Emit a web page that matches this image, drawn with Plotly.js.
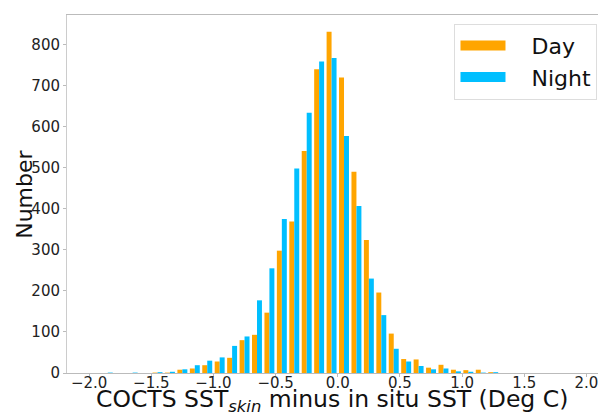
<!DOCTYPE html>
<html>
<head>
<meta charset="utf-8">
<script src="https://cdn.plot.ly/plotly-3.0.1.min.js"></script>
<style>
  html, body { margin: 0; padding: 0; background: #fff; }
  #chart { width: 598px; height: 413px; overflow: hidden; }
</style>
</head>
<body>
<div id="chart"></div>
<script>
// Histogram bin centres (bin width 0.1 °C)
const binCenters = [
  -1.85, -1.75, -1.65, -1.55, -1.45, -1.35, -1.25, -1.15, -1.05, -0.95,
  -0.85, -0.75, -0.65, -0.55, -0.45, -0.35, -0.25, -0.15, -0.05, 0.05,
  0.15, 0.25, 0.35, 0.45, 0.55, 0.65, 0.75, 0.85, 0.95, 1.05,
  1.15, 1.25
];

// Match-up counts per bin
const dayCounts = [
  0, 0, 0, 0, 1, 1, 8, 11, 19, 28,
  37, 80, 93, 147, 298, 369, 541, 740, 831, 720,
  490, 324, 196, 96, 34, 33, 13, 20, 8, 7,
  8, 2
];
const nightCounts = [
  1, 0, 1, 0, 2, 3, 9, 19, 30, 38,
  66, 89, 177, 255, 375, 498, 634, 759, 767, 577,
  407, 230, 141, 59, 28, 17, 9, 11, 4, 3,
  1, 2
];

const xTicks = [-2.0, -1.5, -1.0, -0.5, 0.0, 0.5, 1.0, 1.5, 2.0];
const yTicks = [0, 100, 200, 300, 400, 500, 600, 700, 800];

const seriesNames = ['Day', 'Night'];
const seriesColors = ['#FFA500', '#00BFFF'];

const xTitle = 'COCTS SST<sub><i>skin</i></sub> minus in situ SST (Deg C)';
const yTitle = 'Number';

// Non-breaking spaces give the gap between legend patch and label
const pad = '\u00a0\u00a0\u00a0';

const traces = [
  { type: 'bar', x: binCenters, y: dayCounts, name: seriesNames[0],
    marker: { color: seriesColors[0] }, showlegend: false, hoverinfo: 'x+y' },
  { type: 'bar', x: binCenters, y: nightCounts, name: seriesNames[1],
    marker: { color: seriesColors[1] }, showlegend: false, hoverinfo: 'x+y' },
  // Legend entries drawn as wide patches
  { type: 'scatter', mode: 'lines', x: [null], y: [null], name: pad + seriesNames[0],
    line: { color: seriesColors[0], width: 16 }, hoverinfo: 'skip' },
  { type: 'scatter', mode: 'lines', x: [null], y: [null], name: pad + seriesNames[1],
    line: { color: seriesColors[1], width: 16 }, hoverinfo: 'skip' }
];

const font = 'DejaVu Sans, sans-serif';

const layout = {
  width: 600,
  height: 413,
  margin: { l: 67, r: 0, t: 15, b: 40, pad: 0 },
  paper_bgcolor: '#ffffff',
  plot_bgcolor: '#ffffff',
  barmode: 'group',
  bargap: 0.2,
  bargroupgap: 0,
  font: { family: font, color: '#111' },
  xaxis: {
    range: [-2.178, 2.109],
    tickvals: xTicks,
    tickformat: '.1f',
    tickfont: { size: 15, family: font, color: '#222' },
    ticks: 'outside', ticklen: 3, tickcolor: '#bbb',
    ticklabelstandoff: -7,
    showgrid: false, zeroline: false,
    showline: true, linecolor: '#bbb', linewidth: 1, mirror: true,
    automargin: false
  },
  yaxis: {
    range: [0, 872],
    tickvals: yTicks,
    tickfont: { size: 15, family: font, color: '#222' },
    ticks: 'outside', ticklen: 3, tickcolor: '#bbb',
    showgrid: false, zeroline: false,
    showline: true, linecolor: '#ccc', linewidth: 1,
    automargin: false
  },
  // Axis titles placed as paper-anchored annotations
  annotations: [
    { text: xTitle, xref: 'paper', yref: 'paper', x: 0.497, y: -0.078,
      xanchor: 'center', yanchor: 'middle', showarrow: false,
      font: { size: 23.5, family: font, color: '#111' } },
    { text: yTitle, xref: 'paper', yref: 'paper', x: -0.081, y: 0.5,
      xanchor: 'center', yanchor: 'middle', textangle: -90, showarrow: false,
      font: { size: 22, family: font, color: '#111' } }
  ],
  legend: {
    x: 0.727, y: 0.976, xanchor: 'left', yanchor: 'top',
    bgcolor: '#ffffff', bordercolor: '#ddd', borderwidth: 1,
    font: { size: 22, family: font, color: '#111' },
    itemwidth: 45,
    tracegroupgap: 4
  },
  showlegend: true
};

Plotly.newPlot('chart', traces, layout, { displayModeBar: false, staticPlot: true });
</script>
</body>
</html>
